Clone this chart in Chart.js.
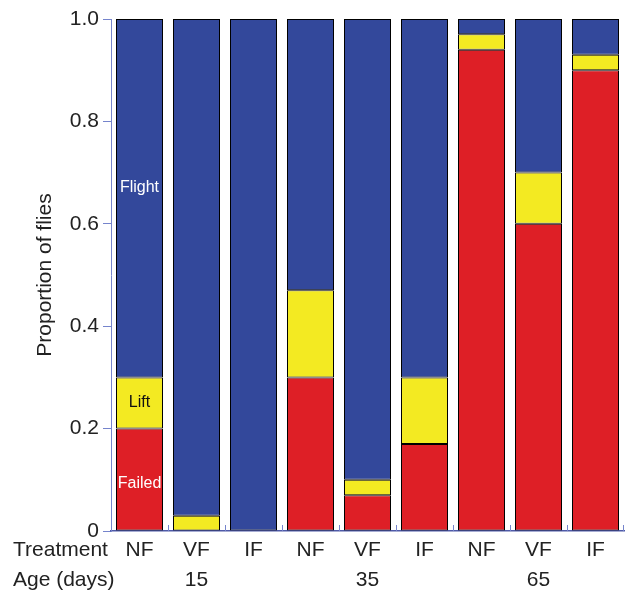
<!DOCTYPE html>
<html>
<head>
<meta charset="utf-8">
<script src="https://cdn.jsdelivr.net/npm/chart.js@4/dist/chart.umd.min.js"></script>
<style>
  html, body { margin: 0; padding: 0; background: #fff; }
  #wrap { width: 625px; height: 593px; position: relative; }
</style>
</head>
<body>
<div id="wrap"><canvas id="c"></canvas></div>
<script>
const treatments = ['NF', 'VF', 'IF', 'NF', 'VF', 'IF', 'NF', 'VF', 'IF'];
const ages = ['', '15', '', '', '35', '', '', '65', ''];
const failed = [0.20, 0.00, 0.00, 0.30, 0.07, 0.17, 0.94, 0.60, 0.90];
const lift   = [0.10, 0.03, 0.00, 0.17, 0.03, 0.13, 0.03, 0.10, 0.03];
const flight = [0.70, 0.97, 1.00, 0.53, 0.90, 0.70, 0.03, 0.30, 0.07];
const yTicks = [0, 0.2, 0.4, 0.6, 0.8, 1.0];
const rowTitles = ['Treatment', 'Age (days)'];
const seriesNames = ['Failed', 'Lift', 'Flight'];
// where the in-bar series names sit on the first bar (data units)
const seriesLabelAt = [0.093, 0.25, 0.67];

const FONT = '"Liberation Sans", Arial, sans-serif';
const AXIS_BLUE = '#7584cc';
const TICK_FONT_SIZE = 21;
const TICK_LINE_H = 1.43;
const TICK_PAD = 4;

const segLabelPlugin = {
  id: 'segLabels',
  afterDatasetsDraw(chart) {
    const ctx = chart.ctx;
    const ys = chart.scales.y;
    ctx.save();
    ctx.font = '16px ' + FONT;
    ctx.textAlign = 'center';
    ctx.textBaseline = 'middle';
    const colors = ['#ffffff', '#111111', '#ffffff'];
    chart.data.datasets.forEach((ds, i) => {
      const el = chart.getDatasetMeta(i).data[0];
      ctx.fillStyle = colors[i];
      ctx.fillText(ds.label, el.x, ys.getPixelForValue(seriesLabelAt[i]));
    });
    ctx.restore();
  }
};

const axisExtrasPlugin = {
  id: 'axisExtras',
  afterDraw(chart) {
    const ctx = chart.ctx;
    const xs = chart.scales.x;
    ctx.save();
    const half = (xs.getPixelForValue(1) - xs.getPixelForValue(0)) / 2;
    ctx.strokeStyle = AXIS_BLUE;
    ctx.lineWidth = 1;
    for (let i = 0; i <= treatments.length; i++) {
      const base = i < treatments.length ? xs.getPixelForValue(i) - half
                                         : xs.getPixelForValue(i - 1) + half - 1;
      const px = Math.round(base) + 0.5;
      ctx.beginPath();
      ctx.moveTo(px, xs.top);
      ctx.lineTo(px, xs.top - 6);
      ctx.stroke();
    }
    ctx.fillStyle = '#222222';
    ctx.font = TICK_FONT_SIZE + 'px ' + FONT;
    ctx.textAlign = 'left';
    ctx.textBaseline = 'middle';
    const lh = TICK_FONT_SIZE * TICK_LINE_H;
    rowTitles.forEach((t, i) => {
      ctx.fillText(t, 13, xs.top + TICK_PAD + lh * (i + 0.5));
    });
    ctx.restore();
  }
};

new Chart(document.getElementById('c'), {
  type: 'bar',
  data: {
    labels: treatments.map((t, i) => [t, ages[i]]),
    datasets: [
      { label: seriesNames[0], data: failed, backgroundColor: '#de1f26' },
      { label: seriesNames[1], data: lift, backgroundColor: '#f3ea22' },
      { label: seriesNames[2], data: flight, backgroundColor: '#33489b' }
    ]
  },
  options: {
    responsive: true,
    maintainAspectRatio: false,
    animation: false,
    devicePixelRatio: 1,
    layout: { padding: { top: 19, right: 1, left: 0, bottom: 0 } },
    datasets: {
      bar: {
        categoryPercentage: 1.0,
        barPercentage: 47 / 57,
        borderColor: '#000000',
        borderWidth: 1,
        borderSkipped: false
      }
    },
    plugins: {
      legend: { display: false },
      tooltip: { enabled: false }
    },
    scales: {
      x: {
        stacked: true,
        grid: { display: false, drawTicks: false },
        border: { display: true, color: '#4f5aa8', width: 1.5 },
        ticks: {
          color: '#222222',
          font: { family: FONT, size: TICK_FONT_SIZE, lineHeight: TICK_LINE_H },
          padding: TICK_PAD,
          maxRotation: 0,
          autoSkip: false
        },
        afterFit(scale) { scale.height = 62; }
      },
      y: {
        stacked: true,
        min: 0,
        max: 1,
        afterBuildTicks(scale) { scale.ticks = yTicks.map(v => ({ value: v })); },
        grid: { drawOnChartArea: false, color: AXIS_BLUE, tickLength: 8, tickColor: AXIS_BLUE },
        border: { display: true, color: AXIS_BLUE, width: 1 },
        ticks: {
          color: '#222222',
          font: { family: FONT, size: TICK_FONT_SIZE },
          padding: 4,
          callback: (v) => v === 0 ? '0' : Number(v).toFixed(1)
        },
        title: {
          display: true,
          text: 'Proportion of flies',
          color: '#222222',
          font: { family: FONT, size: 21 },
          padding: { top: 33, bottom: 0 }
        },
        afterFit(scale) { scale.width = 111; }
      }
    }
  },
  plugins: [segLabelPlugin, axisExtrasPlugin]
});
</script>
</body>
</html>
